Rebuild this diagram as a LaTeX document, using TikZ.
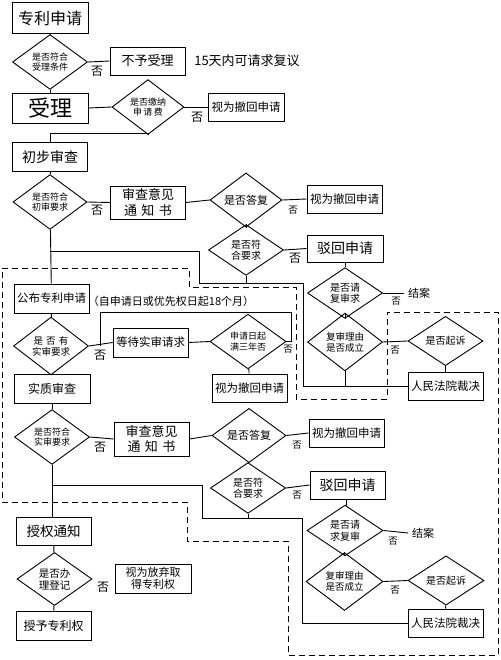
\documentclass[tikz,border=0pt]{standalone}
\usepackage{fontspec}
\setmainfont{Noto Sans CJK SC}
\usetikzlibrary{shapes.geometric}
\newcommand{\fsz}[1]{\fontsize{#1}{#1}\selectfont}

\begin{document}
\begin{tikzpicture}[
  x=1pt, y=-1pt,
  line width=0.9pt,
  box/.style={draw, inner sep=0pt, minimum width=75pt, minimum height=28pt, align=center, font=\fsz{11.5}},
  dia/.style={diamond, draw, inner sep=0pt, minimum width=75pt, minimum height=40pt, align=center, font=\fontsize{9}{10.5}\selectfont},
  nobig/.style={font=\fsz{12}},
  nosmall/.style={font=\fsz{9.5}},
  note/.style={font=\fsz{11}}
]
\useasboundingbox (0,0) rectangle (500,660);

% dashed frame
\draw[dash pattern=on 6pt off 4pt] (2,268) -- (189,268) -- (189,287) -- (296,287) -- (296,399) -- (387,399) -- (387,312) -- (498,312) -- (498,655) -- (288,655) -- (288,541) -- (187,541) -- (187,502) -- (2,502) -- cycle;

% application and acceptance
\node[box, minimum width=76pt, minimum height=31pt, font=\fsz{16}] (apply) at (50,18) {专利申请};
\node[dia, minimum height=42pt] (chk1) at (50,62) {是否符合\\受理条件};
\node[box, font=\fsz{13}] (refuse) at (147.5,61) {不予受理};
\node[note, font=\fsz{13}] (review) at (247,61) {15天内可请求复议};
\node[box, minimum width=76pt, minimum height=30pt, font=\fsz{22}] (accept) at (50,108) {受理};
\node[dia, minimum width=72pt, minimum height=42pt] (fee) at (148,107) {是否缴纳\\申\,请\,费};
\node[box, minimum width=76pt] (wdA) at (246,107) {视为撤回申请};

% preliminary examination
\node[box, minimum height=29pt, font=\fsz{14}] (prelim) at (50,157) {初步审查};
\node[dia, minimum width=74pt] (chkB) at (50,202) {是否符合\\初审要求};
\node[box, minimum height=33pt, font=\fontsize{13}{15.5}\selectfont] (noticeA) at (148,202.5) {审查意见\\通\,\,知\,\,书};
\node[dia, minimum width=72pt, minimum height=41pt, font=\fsz{11}] (replyA) at (246,200) {是否答复};
\node[box] (wdB) at (344.5,199) {视为撤回申请};
\node[dia, font=\fontsize{10}{11.5}\selectfont] (meetA) at (246,250) {是否符\\合要求};
\node[box, minimum width=76pt, minimum height=27pt, font=\fsz{14}] (rejA) at (345,248.5) {驳回申请};
\node[dia, font=\fontsize{10}{11.5}\selectfont] (askA) at (345,293) {是否请\\复审求};
\node[note] (endA) at (419,293) {结案};
\node[dia, font=\fontsize{9.5}{11}\selectfont] (validA) at (345,342) {复审理由\\是否成立};
\node[dia, font=\fsz{10}] (sueA) at (445.5,341) {是否起诉};
\node[box] (courtA) at (445.5,386) {人民法院裁决};

% publication and substantive examination
\node[box, minimum height=29pt] (publish) at (51.5,298.5) {公布专利申请};
\node[note] (pubnote) at (171,301) {（自申请日或优先权日起18个月）};
\node[dia, font=\fontsize{9.5}{11}\selectfont] (req) at (51,346) {是\,\,否\,\,有\\实审要求};
\node[box, minimum height=29pt] (wait) at (150.5,342.5) {等待实审请求};
\node[dia, minimum width=76pt, minimum height=41pt] (three) at (248,341.5) {申请日起\\满三年否};
\node[box] (wdC) at (249.5,388) {视为撤回申请};
\node[box, minimum width=76pt, minimum height=29pt, font=\fsz{12}] (subst) at (52,388.5) {实质审查};
\node[dia] (chkC) at (52,437) {是否符合\\实审要求};
\node[box, minimum height=34pt, font=\fontsize{13}{15.5}\selectfont] (noticeB) at (151.5,439) {审查意见\\通\,\,知\,\,书};
\node[dia, minimum width=74pt, minimum height=41pt, font=\fsz{11}] (replyB) at (249,435.5) {是否答复};
\node[box] (wdD) at (346.5,433) {视为撤回申请};
\node[dia, font=\fontsize{10}{11.5}\selectfont] (meetB) at (248,488) {是否符\\合要求};
\node[box, font=\fsz{14}] (rejB) at (347.5,485) {驳回申请};
\node[dia, minimum width=76pt, minimum height=41pt, font=\fontsize{10}{11.5}\selectfont] (askB) at (345,530.5) {是否请\\求复审};
\node[note] (endB) at (423,533) {结案};
\node[dia, minimum width=77pt, minimum height=41pt, font=\fontsize{9.5}{11}\selectfont] (validB) at (344.5,581.5) {复审理由\\是否成立};
\node[dia, minimum width=76pt, minimum height=41pt, font=\fsz{10}] (sueB) at (446,580.5) {是否起诉};
\node[box] (courtB) at (445.5,623) {人民法院裁决};

% grant
\node[box, font=\fsz{13.5}] (grant) at (53.5,531) {授权通知};
\node[dia, font=\fontsize{10.5}{12}\selectfont] (reg) at (54.5,579) {是否办\\理登记};
\node[box, minimum width=76pt, minimum height=29pt, font=\fontsize{11}{12.5}\selectfont] (giveup) at (153,578.5) {视为放弃取\\得专利权};
\node[box, minimum height=29pt, font=\fsz{12}] (patent) at (53.5,625.5) {授予专利权};

% connectors, upper part
\draw (apply) -- (chk1);
\draw (chk1.east) -- (refuse.west);
\node[nobig] at (97,71) {否};
\draw (chk1) -- (accept);
\draw (accept.east) -- (fee.west);
\draw (fee.east) -- (wdA.west);
\node[nobig] at (197,117) {否};
\draw (fee.south) |- (50,133) -- (prelim.north);
\draw (prelim) -- (chkB);
\draw (chkB.east) -- (noticeA.west);
\node[nobig] at (97,210) {否};
\draw (noticeA.east) -- (replyA.west);
\draw (replyA.east) -- (wdB.west);
\node[nosmall] at (293,210) {否};
\draw (replyA) -- (meetA);
\draw (meetA.east) -- (rejA.west);
\node[nobig] at (295,258) {否};
\draw (chkB) -- (publish);
\draw (chkB.south |- 0,251) -| (199,283) -- (303,283) |- (courtA.west);
\draw (meetA.south) -- (meetA.south |- 0,283);
\draw (rejA) -- (askA);
\draw (askA.east) -- (endA.west);
\node[nosmall] at (396,301) {否};
\draw (askA) -- (validA);
\draw (validA.east) -- (sueA.west);
\node[nosmall] at (395,350) {否};
\draw (sueA) -- (courtA);
\draw (validA.south) -- (validA.south |- courtA.west);

% connectors, middle part
\draw (publish) -- (req);
\draw (req.east) -- (wait.west);
\node[nobig] at (100,355) {否};
\draw (100,0 |- req.east) |- (291,312) |- (three.east);
\node[nosmall] at (288,349) {否};
\draw (wait.east) -- (three.west);
\draw (three) -- (wdC);
\draw (req.south) -- (req.south |- subst.north);
\draw (subst) -- (chkC);
\draw (chkC.east) -- (noticeB.west);
\node[nobig] at (100,447) {否};
\draw (noticeB.east) -- (replyB.west);
\draw (replyB.east) -- (wdD.west);
\node[nosmall] at (297,445) {否};
\draw (replyB) -- (meetB);
\draw (meetB.east) -- (rejB.west);
\node[nosmall] at (297,495) {否};
\draw (chkC.south |- 0,485) -| (202,518) -- (302,518) |- (courtB.west);
\draw (meetB.south) -- (meetB.south |- 0,518);
\draw (rejB) -- (askB);
\draw (askB.east) -- (endB.west);
\node[nosmall] at (393,541) {否};
\draw (askB) -- (validB);
\draw (validB.east) -- (sueB.west);
\node[nosmall] at (395,590) {否};
\draw (sueB) -- (courtB);

% connectors, lower part
\draw (chkC.south) -- (chkC.south |- grant.north);
\draw (grant) -- (reg);
\node[nobig] at (103,587) {否};
\draw (reg) -- (patent);
\end{tikzpicture}
\end{document}
